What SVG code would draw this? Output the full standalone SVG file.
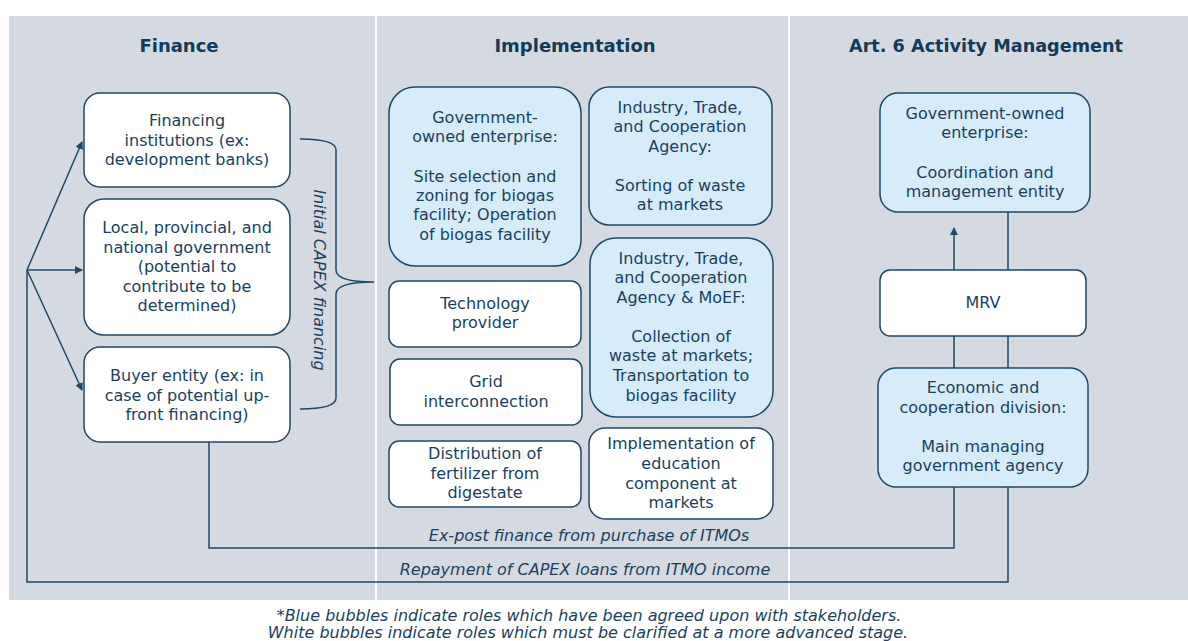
<svg xmlns="http://www.w3.org/2000/svg" width="1188" height="641" viewBox="0 0 1188 641">
<style>
.t{font-family:"DejaVu Sans","Liberation Sans",sans-serif;font-size:16px;fill:#1b3f5e;text-anchor:middle}
.h{font-family:"DejaVu Sans","Liberation Sans",sans-serif;font-size:18px;font-weight:bold;fill:#123a5a;text-anchor:middle}
.i{font-family:"DejaVu Sans","Liberation Sans",sans-serif;font-size:16px;font-style:italic;fill:#1b3f5e;text-anchor:middle}
.w{fill:#ffffff;stroke:#1f4866;stroke-width:1.5}
.b{fill:#d6ecfb;stroke:#1f4866;stroke-width:1.5}
.c{fill:none;stroke:#1f4866;stroke-width:1.5}
</style>
<defs>
<marker id="ah" markerWidth="8" markerHeight="8" refX="7" refY="4" orient="auto" markerUnits="userSpaceOnUse">
<path d="M0,0 L8,4 L0,8 z" fill="#1f4866"/>
</marker>
</defs>
<rect x="9" y="16" width="1179" height="584" fill="#d5d9e1"/>
<rect x="375" y="16" width="2" height="584" fill="#ffffff"/>
<rect x="788" y="16" width="2" height="584" fill="#ffffff"/>
<text class="h" x="179" y="52">Finance</text>
<text class="h" x="575" y="52">Implementation</text>
<text class="h" x="986" y="52" textLength="274" lengthAdjust="spacingAndGlyphs">Art. 6 Activity Management</text>

<g id="connectors">
<path class="c" d="M27,270 L82,142" marker-end="url(#ah)"/>
<path class="c" d="M27,270 L82,270" marker-end="url(#ah)"/>
<path class="c" d="M27,270 L82,390" marker-end="url(#ah)"/>
<path class="c" d="M27,270 L27,582 L1008,582 L1008,487"/>
<path class="c" d="M209,442 L209,548 L954,548 L954,487"/>
<path class="c" d="M954,270 L954,228" marker-end="url(#ah)"/>
<path class="c" d="M1008,212 L1008,270"/>
<path class="c" d="M954,336 L954,368"/>
<path class="c" d="M1008,336 L1008,368"/>
<path class="c" d="M300,139 Q336,139 336,150 L336,270 Q336,282 374,282 Q336,282 336,294 L336,398 Q336,409 300,409"/>
<text class="i" transform="translate(314,280) rotate(90)">Initial CAPEX financing</text>
<text class="i" x="589" y="541">Ex-post finance from purchase of ITMOs</text>
<text class="i" x="585" y="575">Repayment of CAPEX loans from ITMO income</text>
</g>

<g id="fin1"><rect class="w" x="84" y="93" width="206" height="94" rx="16"/>
<text class="t" x="187" y="126">Financing<tspan x="187" dy="19.5">institutions (ex:</tspan><tspan x="187" dy="19.5">development banks)</tspan></text></g>
<g id="fin2"><rect class="w" x="84" y="199" width="206" height="136" rx="20"/>
<text class="t" x="187" y="233">Local, provincial, and<tspan x="187" dy="19.5">national government</tspan><tspan x="187" dy="19.5">(potential to</tspan><tspan x="187" dy="19.5">contribute to be</tspan><tspan x="187" dy="19.5">determined)</tspan></text></g>
<g id="fin3"><rect class="w" x="84" y="347" width="206" height="95" rx="16"/>
<text class="t" x="187" y="381">Buyer entity (ex: in<tspan x="187" dy="19.5">case of potential up-</tspan><tspan x="187" dy="19.5">front financing)</tspan></text></g>

<g id="imp1"><rect class="b" x="389" y="87" width="192" height="179" rx="26"/>
<text class="t" x="485" y="123">Government-<tspan x="485" dy="19.3">owned enterprise:</tspan><tspan x="485" dy="39.5">Site selection and</tspan><tspan x="485" dy="19.3">zoning for biogas</tspan><tspan x="485" dy="19.3">facility; Operation</tspan><tspan x="485" dy="19.3">of biogas facility</tspan></text></g>
<g id="imp2"><rect class="b" x="589" y="87" width="183" height="138" rx="20"/>
<text class="t" x="680" y="113">Industry, Trade,<tspan x="680" dy="19.3">and Cooperation</tspan><tspan x="680" dy="19.5">Agency:</tspan><tspan x="680" dy="39.3">Sorting of waste</tspan><tspan x="680" dy="19.3">at markets</tspan></text></g>
<g id="imp3"><rect class="w" x="389" y="281" width="192" height="66" rx="10"/>
<text class="t" x="485" y="309">Technology<tspan x="485" dy="19.3">provider</tspan></text></g>
<g id="imp4"><rect class="b" x="590" y="238" width="183" height="179" rx="26"/>
<text class="t" x="681" y="264">Industry, Trade,<tspan x="681" dy="19.3">and Cooperation</tspan><tspan x="681" dy="20">Agency &amp; MoEF:</tspan><tspan x="681" dy="38.5">Collection of</tspan><tspan x="681" dy="19.5">waste at markets;</tspan><tspan x="681" dy="20">Transportation to</tspan><tspan x="681" dy="19.5">biogas facility</tspan></text></g>
<g id="imp5"><rect class="w" x="390" y="359" width="192" height="66" rx="10"/>
<text class="t" x="486" y="387">Grid<tspan x="486" dy="19.5">interconnection</tspan></text></g>
<g id="imp6"><rect class="w" x="389" y="441" width="192" height="66" rx="10"/>
<text class="t" x="485" y="459">Distribution of<tspan x="485" dy="19.5">fertilizer from</tspan><tspan x="485" dy="19.5">digestate</tspan></text></g>
<g id="imp7"><rect class="w" x="589" y="428" width="184" height="91" rx="16"/>
<text class="t" x="681" y="449">Implementation of<tspan x="681" dy="19.5">education</tspan><tspan x="681" dy="20">component at</tspan><tspan x="681" dy="19.5">markets</tspan></text></g>

<g id="art1"><rect class="b" x="880" y="93" width="210" height="119" rx="18"/>
<text class="t" x="985" y="119">Government-owned<tspan x="985" dy="19.3">enterprise:</tspan><tspan x="985" dy="39.5">Coordination and</tspan><tspan x="985" dy="19.5">management entity</tspan></text></g>
<g id="art2"><rect class="w" x="880" y="270" width="206" height="66" rx="10"/>
<text class="t" x="983" y="308">MRV</text></g>
<g id="art3"><rect class="b" x="878" y="368" width="210" height="119" rx="18"/>
<text class="t" x="983" y="393">Economic and<tspan x="983" dy="19.5">cooperation division:</tspan><tspan x="983" dy="39.5">Main managing</tspan><tspan x="983" dy="19.3">government agency</tspan></text></g>

<text class="i" x="589" y="621">*Blue bubbles indicate roles which have been agreed upon with stakeholders.</text>
<text class="i" x="588" y="638">White bubbles indicate roles which must be clarified at a more advanced stage.</text>
</svg>
